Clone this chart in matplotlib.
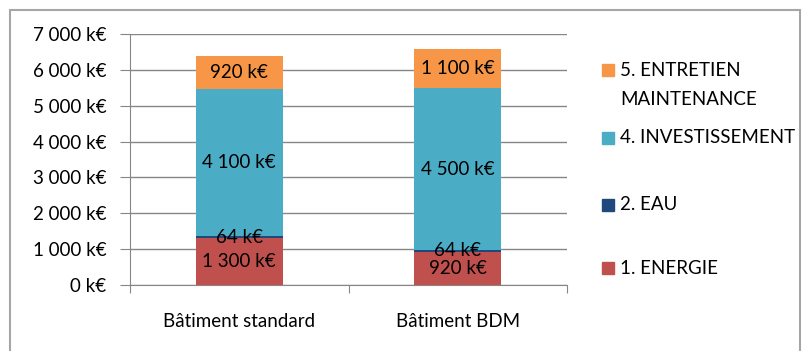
import numpy as np
import matplotlib.pyplot as plt
from matplotlib.patches import Rectangle

plt.rcParams['font.family'] = ['Lato', 'DejaVu Sans']

categories = ["Bâtiment standard", "Bâtiment BDM"]
energie = [1300, 920]
eau = [64, 64]
investissement = [4100, 4500]
entretien = [920, 1100]

series = [
    ("1. ENERGIE", energie, "#C0504D"),
    ("2. EAU", eau, "#1F497D"),
    ("4. INVESTISSEMENT", investissement, "#4BACC6"),
    ("5. ENTRETIEN\nMAINTENANCE", entretien, "#F79646"),
]

FS = 13.5

def fmt(v):
    return f"{v:,.0f}".replace(",", " ") + " k€"

fig = plt.figure(figsize=(8.09, 3.51), dpi=100)
ax = fig.add_axes([130 / 809, 1 - 285 / 351, (567 - 130) / 809, (285 - 34) / 351])

x = np.arange(len(categories))
bottom = np.zeros(len(categories))
for name, vals, col in series:
    vals = np.array(vals, dtype=float)
    ax.bar(x, vals, 0.4, bottom=bottom, color=col, zorder=3, label=name)
    for xi, v, b0 in zip(x, vals, bottom):
        ax.text(xi, b0 + v / 2, fmt(v), ha="center", va="center",
                fontsize=FS, color="black", zorder=4)
    bottom += vals

ax.set_xlim(-0.5, 1.5)
ax.set_ylim(0, 7000)
ax.set_yticks(range(0, 7001, 1000))
ax.set_yticklabels([fmt(v) for v in range(0, 7001, 1000)], fontsize=FS)
ax.set_xticks([-0.5, 0.5, 1.5], minor=False)
ax.set_xticks(x, minor=True)
ax.set_xticklabels(["", "", ""])
ax.set_xticklabels(categories, minor=True, fontsize=FS)
ax.tick_params(axis="x", which="minor", length=0, pad=20)
ax.tick_params(axis="x", which="major", length=6, color="#868686")
ax.tick_params(axis="y", length=7, color="#868686", pad=10)
ax.yaxis.grid(True, color="#868686", linewidth=1, zorder=0)
for s in ["top", "right"]:
    ax.spines[s].set_visible(False)
for s in ["left", "bottom"]:
    ax.spines[s].set_color("#868686")

# legend, drawn in figure coordinates
leg_items = [
    ("5. ENTRETIEN", "#F79646", 70),
    ("MAINTENANCE", None, 100),
    ("4. INVESTISSEMENT", "#4BACC6", 138),
    ("2. EAU", "#1F497D", 205),
    ("1. ENERGIE", "#C0504D", 268),
]
for label, col, yp in leg_items:
    if col is not None:
        fig.patches.append(Rectangle((602 / 809, 1 - (yp + 6) / 351), 12 / 809, 12 / 351,
                                     transform=fig.transFigure, color=col))
    fig.text(620 / 809, 1 - yp / 351, label, ha="left", va="center", fontsize=FS)

fig.patches.append(Rectangle((10 / 809, -0.1), 790 / 809, 1.1 - 10 / 351,
                             transform=fig.transFigure, fill=False,
                             edgecolor="#A6A6A6", linewidth=1.5))

fig.savefig("out.png", dpi=100)
